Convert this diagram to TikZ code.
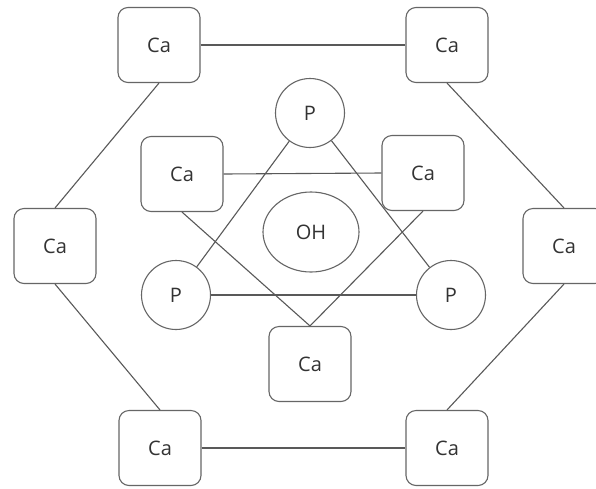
\documentclass[tikz,border=0pt]{standalone}
\usepackage{fontspec}
\setmainfont{Open Sans}
\usetikzlibrary{shapes.geometric}
\begin{document}
\begin{tikzpicture}[x=1pt,y=-1pt,
  every node/.style={font=\fontsize{20}{24}\selectfont, text=black!80},
  cabox/.style={draw=black!60, line width=1.1pt, rounded corners=10pt, minimum width=82pt, minimum height=75pt, inner sep=0pt},
  pcirc/.style={draw=black!60, line width=1.1pt, circle, minimum size=69pt, inner sep=0pt},
  ohell/.style={draw=black!60, line width=1.1pt, ellipse, minimum width=96pt, minimum height=80pt, inner sep=0pt},
  link/.style={draw=black!65, line width=1.1pt}]
\useasboundingbox (0,0) rectangle (596,488);
\clip (0,0) rectangle (596,488);
\fill[white] (0,0) rectangle (596,488);
% outer hexagon
\node[cabox] (tl) at (159,45) {Ca};
\node[cabox] (tr) at (447,45) {Ca};
\node[cabox] (l) at (55,246) {Ca};
\node[cabox] (r) at (564,246) {Ca};
\node[cabox] (bl) at (160,448) {Ca};
\node[cabox] (br) at (447,448) {Ca};
% inner
\node[cabox] (cal) at (182,174) {Ca};
\node[cabox] (car) at (423,173) {Ca};
\node[cabox] (cab) at (310,364) {Ca};
\node[pcirc] (pt) at (310,113) {P};
\node[pcirc] (pl) at (176,295) {P};
\node[pcirc] (pr) at (451,295) {P};
\node[ohell] (oh) at (311,232) {OH};
% connectors
\draw[link] (tl.east) -- (tr.west);
\draw[link] (tl.south) -- (l.north);
\draw[link] (l.south) -- (bl.north);
\draw[link] (bl.east) -- (br.west);
\draw[link] (br.north) -- (r.south);
\draw[link] (tr.south) -- (r.north);
\draw[link] (cal.east) -- (car.west);
\draw[link] (pl) -- (pr);
\draw[link] (pt) -- (pl);
\draw[link] (pt) -- (pr);
\draw[link] (cal.south) -- (cab.north);
\draw[link] (car.south) -- (cab.north);
\end{tikzpicture}
\end{document}
